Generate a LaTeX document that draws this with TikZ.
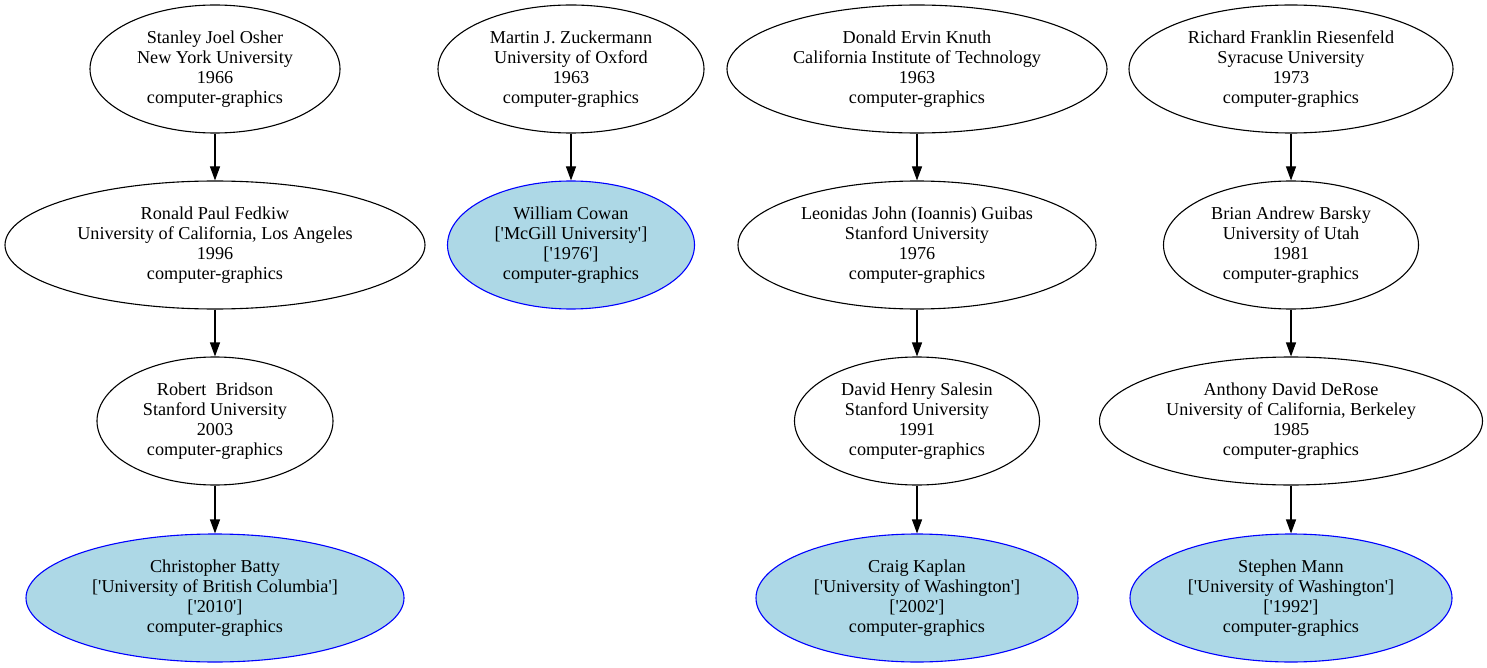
\documentclass[tikz,border=0pt]{standalone}
\usepackage{fontspec}
\setmainfont{Liberation Serif}[Ligatures=TeXOff]
\usetikzlibrary{shapes.geometric,arrows.meta}
\tikzset{
  person/.style={ellipse, draw=black, line width=1.1pt, inner sep=0pt, minimum height=128pt,
    align=center, font=\fontsize{18.2}{20}\selectfont},
  target/.style={person, draw=blue, fill={rgb,255:red,173;green,216;blue,230}},
  arr/.style={line width=1.1pt, -{Triangle[length=14pt,width=10pt]}}
}
\begin{document}
\begin{tikzpicture}[x=1pt,y=-1pt]
\useasboundingbox (0,0) rectangle (1487,668);
% column 1
\node[person, minimum width=250pt] (osher) at (215,69) {Stanley Joel Osher\\New York University\\1966\\computer-graphics};
\node[person, minimum width=420pt] (fedkiw) at (215,245) {Ronald Paul Fedkiw\\University of California, Los Angeles\\1996\\computer-graphics};
\node[person, minimum width=236pt] (bridson) at (215,421) {Robert\ \ Bridson\\Stanford University\\2003\\computer-graphics};
\node[target, minimum width=378pt] (batty) at (215,598) {Christopher Batty\\{[}'University of British Columbia'{]}\\{[}'2010'{]}\\computer-graphics};
% column 2
\node[person, minimum width=266pt] (zuck) at (571,69) {Martin J. Zuckermann\\University of Oxford\\1963\\computer-graphics};
\node[target, minimum width=247pt] (cowan) at (571,245) {William Cowan\\{[}'McGill University'{]}\\{[}'1976'{]}\\computer-graphics};
% column 3
\node[person, minimum width=380pt] (knuth) at (917,69) {Donald Ervin Knuth\\California Institute of Technology\\1963\\computer-graphics};
\node[person, minimum width=358pt] (guibas) at (917,245) {Leonidas John (Ioannis) Guibas\\Stanford University\\1976\\computer-graphics};
\node[person, minimum width=245pt] (salesin) at (917,421) {David Henry Salesin\\Stanford University\\1991\\computer-graphics};
\node[target, minimum width=322pt] (kaplan) at (917,598) {Craig Kaplan\\{[}'University of Washington'{]}\\{[}'2002'{]}\\computer-graphics};
% column 4
\node[person, minimum width=324pt] (ries) at (1291,69) {Richard Franklin Riesenfeld\\Syracuse University\\1973\\computer-graphics};
\node[person, minimum width=255pt] (barsky) at (1291,245) {Brian Andrew Barsky\\University of Utah\\1981\\computer-graphics};
\node[person, minimum width=383pt] (derose) at (1291,421) {Anthony David DeRose\\University of California, Berkeley\\1985\\computer-graphics};
\node[target, minimum width=322pt] (mann) at (1291,598) {Stephen Mann\\{[}'University of Washington'{]}\\{[}'1992'{]}\\computer-graphics};
% edges
\draw[arr] (osher) -- (fedkiw);
\draw[arr] (fedkiw) -- (bridson);
\draw[arr] (bridson) -- (batty);
\draw[arr] (zuck) -- (cowan);
\draw[arr] (knuth) -- (guibas);
\draw[arr] (guibas) -- (salesin);
\draw[arr] (salesin) -- (kaplan);
\draw[arr] (ries) -- (barsky);
\draw[arr] (barsky) -- (derose);
\draw[arr] (derose) -- (mann);
\end{tikzpicture}
\end{document}
